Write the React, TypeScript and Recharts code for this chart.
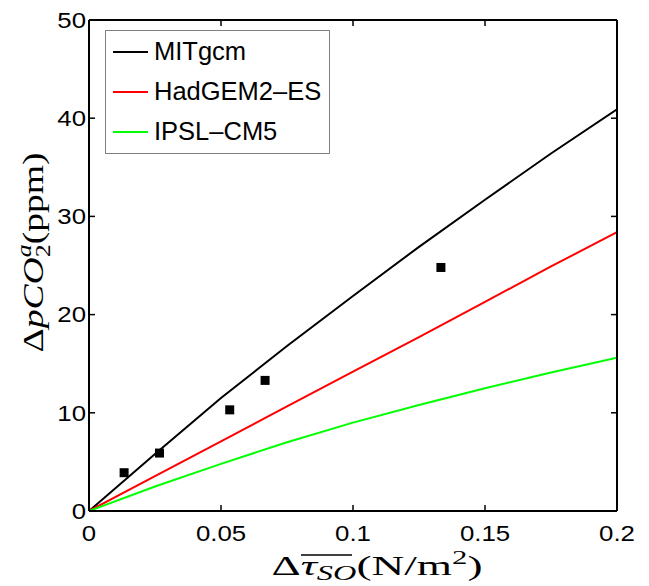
import React from 'react';
import { ComposedChart, Line, Scatter, XAxis, YAxis, Legend, Label } from 'recharts';

const tauValues = [0, 0.025, 0.05, 0.075, 0.1, 0.125, 0.15, 0.175, 0.2];
const mitgcmValues = [0, 5.8, 11.5, 16.8, 21.9, 26.9, 31.7, 36.4, 40.9];
const hadgemValues = [0, 3.55, 7.1, 10.65, 14.2, 17.7, 21.3, 24.9, 28.4];
const ipslValues = [0, 2.5, 4.8, 7.0, 9.0, 10.8, 12.5, 14.1, 15.6];
const obsTau = [0.0133, 0.0267, 0.0533, 0.0667, 0.1333];
const obsPco2 = [3.9, 5.9, 10.3, 13.3, 24.8];
const xTicks = [0, 0.05, 0.1, 0.15, 0.2];
const yTicks = [0, 10, 20, 30, 40, 50];
const seriesNames = ['MITgcm', 'HadGEM2\u2013ES', 'IPSL\u2013CM5'];
const seriesColors = ['#000000', '#ff0000', '#00ff00'];

const mk = (vals: number[]) => tauValues.map((x, i) => ({ x, y: vals[i] }));
const lineData = [mk(mitgcmValues), mk(hadgemValues), mk(ipslValues)];
const obsData = obsTau.map((x, i) => ({ x, y: obsPco2[i] }));

const TICK_FONT = "'Liberation Sans', Arial, Helvetica, sans-serif";
const MATH_FONT = "'Liberation Serif', 'Times New Roman', serif";

const XTick = (props: any) => {
  const { x, y, payload } = props;
  return (
    <text transform={`translate(${x},${y}) scale(1.2,1)`} textAnchor="middle" dy="0.36em"
      fontFamily={TICK_FONT} fontSize={21.5} fill="#000">{String(payload.value)}</text>
  );
};
const YTick = (props: any) => {
  const { x, y, payload } = props;
  return (
    <text transform={`translate(${x},${y}) scale(1.2,1)`} textAnchor="end" dy="0.36em"
      fontFamily={TICK_FONT} fontSize={21.5} fill="#000">{String(payload.value)}</text>
  );
};
const NoTick = () => <g />;

const XLabel = (props: any) => {
  const vb = props.viewBox || { x: 89, y: 511, width: 528, height: 75 };
  const cx = vb.x + vb.width / 2 + 24;
  const cy = vb.y + 64;
  return (
    <g>
      <text x={cx} y={cy} textAnchor="middle" fontFamily={MATH_FONT} fontSize={28} fill="#000"
        textLength={211} lengthAdjust="spacingAndGlyphs">
        <tspan>Δ</tspan>
        <tspan fontStyle="italic">τ</tspan>
        <tspan fontSize={20} fontStyle="italic" dy={5}>SO</tspan>
        <tspan dy={-5}>(N/m</tspan>
        <tspan fontSize={19} dy={-11}>2</tspan>
        <tspan dy={11}>)</tspan>
      </text>
      <line x1={cx - 76} x2={cx - 25} y1={cy - 20} y2={cy - 20} stroke="#000" strokeWidth={1.3} />
    </g>
  );
};

const YLabel = (props: any) => {
  const vb = props.viewBox || { x: 0, y: 20, width: 89, height: 491 };
  const cx = vb.x + 43;
  const cy = vb.y + vb.height / 2 - 13;
  return (
    <text transform={`translate(${cx},${cy}) rotate(-90)`} textAnchor="middle" fontFamily={MATH_FONT}
      fontSize={29} fill="#000" textLength={200} lengthAdjust="spacingAndGlyphs">
      <tspan>Δ</tspan>
      <tspan fontStyle="italic">pCO</tspan>
      <tspan fontSize={20} dy={7}>2</tspan>
      <tspan fontSize={20} fontStyle="italic" dx={-10} dy={-19}>a</tspan>
      <tspan dy={12}>(ppm)</tspan>
    </text>
  );
};

const LegendBox = () => (
  <div style={{ width: 225, height: 124, boxSizing: 'border-box', border: '1px solid #808080',
    background: '#fff', paddingTop: 1 }}>
    {seriesNames.map((name, i) => (
      <div key={name} style={{ height: 40, display: 'flex', alignItems: 'center' }}>
        <div style={{ marginLeft: 7, width: 35, height: 2, background: seriesColors[i] }} />
        <span style={{ marginLeft: 6, fontFamily: TICK_FONT, fontSize: 25.5, lineHeight: 1, color: '#000' }}>
          {name}
        </span>
      </div>
    ))}
  </div>
);

const Square = (props: any) => {
  const { cx, cy } = props;
  return <rect x={cx - 4.5} y={cy - 4.5} width={9} height={9} fill="#000" />;
};

export default function App() {
  const axisLine = { stroke: '#000', strokeWidth: 2 };
  const tickLine = { stroke: '#000', strokeWidth: 1.5 };
  return (
    <div style={{ position: 'absolute', left: 0, top: 0, background: '#fff' }}>
      <ComposedChart width={649} height={586} margin={{ top: 19, right: 31, bottom: 0, left: 0 }}>
        <XAxis xAxisId={0} type="number" dataKey="x" domain={[0, 0.2]} ticks={xTicks} allowDataOverflow
          height={75} axisLine={axisLine} tickLine={tickLine} tickSize={-6} tickMargin={28} tick={<XTick />}
          interval={0}>
          <Label content={<XLabel />} />
        </XAxis>
        <XAxis xAxisId="top" orientation="top" type="number" dataKey="x" domain={[0, 0.2]} ticks={xTicks}
          allowDataOverflow height={1} axisLine={axisLine} tickLine={tickLine} tickSize={-6} tick={<NoTick />}
          interval={0} />
        <YAxis yAxisId={0} type="number" domain={[0, 50]} ticks={yTicks} allowDataOverflow width={89}
          axisLine={axisLine} tickLine={tickLine} tickSize={-6} tickMargin={9} tick={<YTick />} interval={0}>
          <Label content={<YLabel />} />
        </YAxis>
        <YAxis yAxisId="right" orientation="right" type="number" domain={[0, 50]} ticks={yTicks}
          allowDataOverflow width={1} axisLine={axisLine} tickLine={tickLine} tickSize={-6} tick={<NoTick />}
          interval={0} />
        <Line data={lineData[0]} dataKey="y" name="frame" legendType="none" stroke="none" dot={false}
          activeDot={false} isAnimationActive={false} xAxisId="top" yAxisId="right" />
        {lineData.map((d, i) => (
          <Line key={seriesNames[i]} data={d} dataKey="y" name={seriesNames[i]} type="linear"
            stroke={seriesColors[i]} strokeWidth={2} dot={false} activeDot={false}
            isAnimationActive={false} xAxisId={0} yAxisId={0} />
        ))}
        <Scatter data={obsData} dataKey="y" name="obs" legendType="none" shape={<Square />}
          isAnimationActive={false} xAxisId={0} yAxisId={0} />
        <Legend content={<LegendBox />} layout="horizontal" verticalAlign="middle" align="center"
          wrapperStyle={{ position: 'absolute', left: 105, top: 30, width: 225, height: 124 }} />
      </ComposedChart>
    </div>
  );
}
